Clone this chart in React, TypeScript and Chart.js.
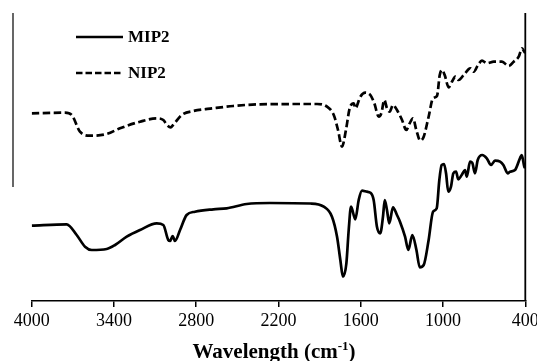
import React, { useEffect, useRef } from "react";
import { Chart, registerables } from "chart.js";

Chart.register(...registerables);

// Wavenumbers (cm-1) and relative transmittance (arbitrary units)
const mip2Wavenumbers = [
  4000, 3745, 3672, 3611, 3562, 3453, 3392, 3307, 3210, 3088, 3040, 3004, 2991, 2972, 2955, 2918,
  2870, 2809, 2675, 2578, 2432, 2262, 1968, 1870, 1810, 1773, 1749, 1730, 1705, 1688, 1671, 1640,
  1615, 1591, 1555, 1530, 1506, 1482, 1458, 1438, 1425, 1409, 1392, 1365, 1336, 1314, 1277, 1253,
  1224, 1194, 1170, 1141, 1105, 1073, 1046, 1027, 1010, 993, 978, 962, 942, 925, 905, 889, 864,
  840, 827, 803, 787, 767, 747, 714, 681, 650, 621, 584, 560, 528, 512, 475, 439, 426, 407, 400,
];
const mip2Values = [
  75.3, 76.7, 66, 54.3, 51, 52, 56, 64.3, 71, 77.7, 76, 61, 60, 65, 60, 71,
  86, 89.3, 91.7, 92.7, 97, 98, 97.5, 94.3, 84.3, 64.3, 41, 24.3, 37.7, 71, 94.3, 81.7,
  101, 110.3, 109.3, 108.3, 101, 74.3, 67.7, 84.3, 101, 91, 77.7, 93.7, 86, 79.3, 64.3, 51,
  66, 51, 33.7, 36, 61, 89.3, 92.7, 121, 136, 137, 127.7, 109.3, 114.3, 127.7, 129.3, 121.7, 126,
  131, 124.3, 139.3, 138.3, 127.7, 141, 146, 142.7, 136, 140.3, 139.3, 136, 127.7, 129.3, 131, 142.7, 146, 134.3, 133,
];

const nip2Wavenumbers = [
  4000, 3757, 3708, 3648, 3575, 3453, 3356, 3210, 3088, 3040, 3013, 2986, 2969, 2955, 2906, 2821,
  2675, 2530, 2335, 1919, 1846, 1797, 1766, 1737, 1708, 1681, 1651, 1640, 1603, 1567, 1530, 1501,
  1469, 1450, 1428, 1409, 1389, 1365, 1336, 1299, 1268, 1243, 1219, 1195, 1166, 1141, 1105, 1073,
  1044, 1024, 1008, 988, 959, 935, 910, 886, 849, 801, 776, 745, 716, 679, 630, 570, 521, 485,
  448, 424, 407, 400,
];
const nip2Values = [
  187.7, 188.3, 186, 169.3, 165.3, 167, 172.7, 179.3, 182.7, 181, 176, 173.7, 176, 178.3, 186, 190,
  192.7, 195, 196.7, 197, 194.3, 186, 171, 154.3, 171, 192.7, 197.7, 192.7, 204.3, 208.3, 206, 197.7,
  184.3, 187.7, 201, 192.7, 189.3, 196, 191, 181, 171, 177.7, 182.7, 171, 160.3, 164.3, 184.3, 202.7,
  205, 226, 231, 226, 213.7, 219.3, 224.3, 221, 226, 232.7, 229.3, 236, 240.3, 237.7, 239.3, 239.3, 235, 239.3,
  244.3, 252.7, 249.3, 248,
];

const xTickValues = [4000, 3400, 2800, 2200, 1600, 1000, 400];
const seriesLabels = ["MIP2", "NIP2"];
const axisTitleText = "Wavelength (cm";
const axisTitleSup = "-1";
const axisTitleEnd = ")";

const SERIF = '"Liberation Serif", "Times New Roman", serif';

const decorPlugin = {
  id: "decor",
  afterDraw(chart: any) {
    const { ctx, chartArea } = chart;
    ctx.save();
    ctx.strokeStyle = "#000";
    ctx.fillStyle = "#000";

    // right frame line
    ctx.lineWidth = 1.8;
    ctx.beginPath();
    ctx.moveTo(chartArea.right, chartArea.top);
    ctx.lineTo(chartArea.right, chartArea.bottom);
    ctx.stroke();

    // short left vertical line
    ctx.lineWidth = 1.2;
    ctx.beginPath();
    ctx.moveTo(chartArea.left - 18.7, chartArea.top);
    ctx.lineTo(chartArea.left - 18.7, chartArea.top + 174);
    ctx.stroke();

    // legend
    const ds = chart.data.datasets;
    const legendX0 = 76;
    const legendX1 = 123;
    const rows = [37, 73];
    ds.forEach((d: any, i: number) => {
      const y = rows[i];
      ctx.lineWidth = 2.6;
      ctx.setLineDash(i === 1 ? [6.5, 3] : []);
      ctx.beginPath();
      ctx.moveTo(legendX0, y);
      ctx.lineTo(legendX1, y);
      ctx.stroke();
      ctx.setLineDash([]);
      ctx.font = `bold 17px ${SERIF}`;
      ctx.textAlign = "left";
      ctx.textBaseline = "middle";
      ctx.fillText(d.label, 128, y + 1);
    });

    // axis title with superscript
    const mainFont = `bold 21px ${SERIF}`;
    const supFont = `bold 13px ${SERIF}`;
    ctx.font = mainFont;
    const w1 = ctx.measureText(axisTitleText).width;
    const w3 = ctx.measureText(axisTitleEnd).width;
    ctx.font = supFont;
    const w2 = ctx.measureText(axisTitleSup).width;
    const total = w1 + w2 + w3;
    const cx = 274;
    const baseY = 358;
    let x = cx - total / 2;
    ctx.textAlign = "left";
    ctx.textBaseline = "alphabetic";
    ctx.font = mainFont;
    ctx.fillText(axisTitleText, x, baseY);
    x += w1;
    ctx.font = supFont;
    ctx.fillText(axisTitleSup, x, baseY - 8.5);
    x += w2;
    ctx.font = mainFont;
    ctx.fillText(axisTitleEnd, x, baseY);
    ctx.restore();
  },
};

export default function App() {
  const canvasRef = useRef<HTMLCanvasElement | null>(null);

  useEffect(() => {
    if (!canvasRef.current) return;
    const chart = new Chart(canvasRef.current, {
      type: "line",
      data: {
        datasets: [
          {
            label: seriesLabels[0],
            data: mip2Wavenumbers.map((x, i) => ({ x, y: mip2Values[i] })),
            borderColor: "#000",
            borderWidth: 2.7,
            pointRadius: 0,
            cubicInterpolationMode: "monotone",
            fill: false,
          },
          {
            label: seriesLabels[1],
            data: nip2Wavenumbers.map((x, i) => ({ x, y: nip2Values[i] })),
            borderColor: "#000",
            borderWidth: 2.7,
            borderDash: [7.5, 3.5],
            pointRadius: 0,
            cubicInterpolationMode: "monotone",
            fill: false,
          },
        ],
      },
      options: {
        animation: false,
        responsive: false,
        devicePixelRatio: 1,
        layout: { padding: { left: 31.7, right: 34.7, top: 13, bottom: 26.4 } },
        plugins: { legend: { display: false }, tooltip: { enabled: false } },
        scales: {
          x: {
            type: "linear",
            reverse: true,
            min: 400,
            max: 4000,
            afterBuildTicks: (scale: any) => {
              scale.ticks = xTickValues.map((v) => ({ value: v }));
            },
            ticks: {
              color: "#000",
              font: { family: SERIF, size: 18 },
              padding: 3,
              maxRotation: 0,
              autoSkip: false,
              callback: (v: any) => String(v),
            },
            grid: {
              display: true,
              drawOnChartArea: false,
              drawTicks: true,
              tickLength: 6,
              color: "#000",
              lineWidth: 1.5,
            },
            border: { display: true, color: "#000", width: 1.5 },
          },
          y: {
            type: "linear",
            display: false,
            min: 0,
            max: 288,
          },
        },
      },
      plugins: [decorPlugin],
    } as any);
    return () => chart.destroy();
  }, []);

  return (
    <div
      style={{
        position: "fixed",
        left: 0,
        top: 0,
        width: 537,
        height: 361,
        overflow: "hidden",
        background: "#fff",
      }}
    >
      <canvas ref={canvasRef} width={560} height={361} style={{ display: "block" }} />
    </div>
  );
}
